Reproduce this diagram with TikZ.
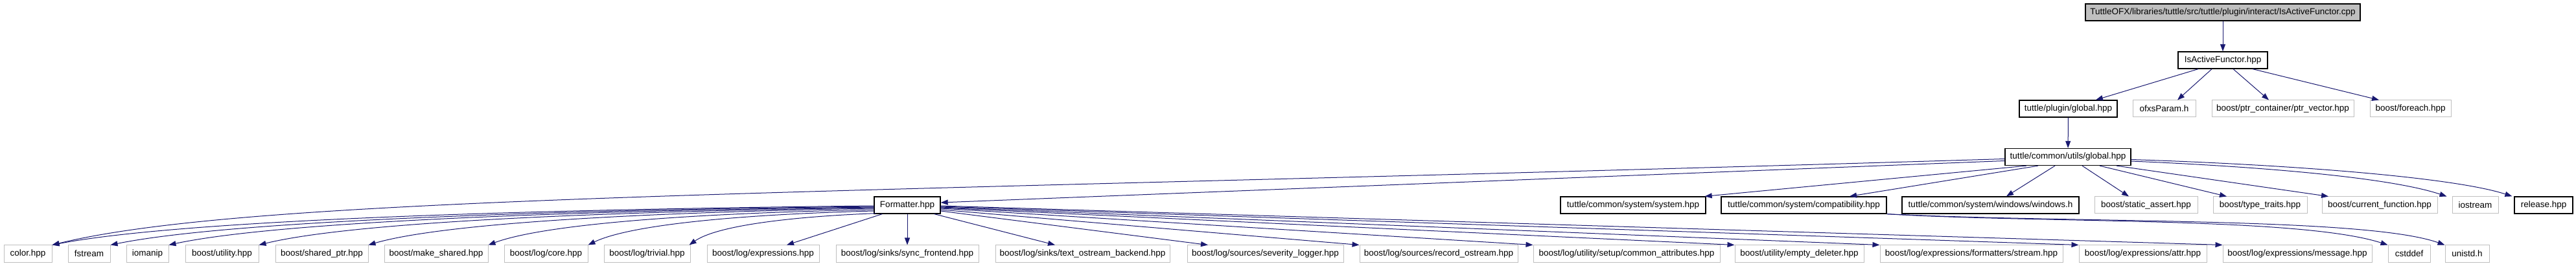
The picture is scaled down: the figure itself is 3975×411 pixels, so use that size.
\documentclass[tikz,border=0pt]{standalone}
\usepackage{fontspec}
\usetikzlibrary{arrows.meta,calc}
\newfontfamily\lsans{Liberation Sans}
\newcommand\nfs{\lsans\fontsize{13.5}{15}\selectfont}
\definecolor{edgeblue}{HTML}{191970}
\definecolor{extgray}{HTML}{BFBFBF}
\begin{document}
\begin{tikzpicture}[x=1pt,y=-1pt,
  box/.style={rectangle, inner sep=0pt, minimum height=26pt, font=\nfs, anchor=center},
  ext/.style={box, draw=extgray, line width=1pt},
  own/.style={box, draw=black, line width=1.3pt},
  root/.style={box, draw=black, fill=extgray, line width=1.3pt},
  dep/.style={draw=edgeblue, line width=1pt, -{Triangle[length=11pt,width=8pt]}}]
\useasboundingbox (0,0) rectangle (3975,411);
% row 1
\node[root, minimum width=424pt] (top) at (3430,19) {TuttleOFX/libraries/tuttle/src/tuttle/plugin/interact/IsActiveFunctor.cpp};
% row 2
\node[own, minimum width=138pt] (isaf) at (3430,93) {IsActiveFunctor.hpp};
% row 3
\node[own, minimum width=151pt] (pg) at (3191.5,168) {tuttle/plugin/global.hpp};
\node[ext, minimum width=97pt] (ofxs) at (3339.5,168) {ofxsParam.h};
\node[ext, minimum width=219pt] (ptrvec) at (3522.5,168) {boost/ptr\_container/ptr\_vector.hpp};
\node[ext, minimum width=125pt] (foreach) at (3719.5,168) {boost/foreach.hpp};
% row 4
\node[own, minimum width=194pt] (ug) at (3191,242.5) {tuttle/common/utils/global.hpp};
% row 5
\node[own, minimum width=102pt] (fmt) at (1400,317) {Formatter.hpp};
\node[own, minimum width=224pt] (sys) at (2520,317) {tuttle/common/system/system.hpp};
\node[own, minimum width=255pt] (compat) at (2783.5,317) {tuttle/common/system/compatibility.hpp};
\node[own, minimum width=273pt] (win) at (3071.5,317) {tuttle/common/system/windows/windows.h};
\node[ext, minimum width=159pt] (sa) at (3311.5,317) {boost/static\_assert.hpp};
\node[ext, minimum width=145pt] (tt) at (3487.5,317) {boost/type\_traits.hpp};
\node[ext, minimum width=178pt] (cf) at (3672,317) {boost/current\_function.hpp};
\node[ext, minimum width=71pt] (ios) at (3819.5,317) {iostream};
\node[own, minimum width=90pt] (rel) at (3925,317) {release.hpp};
% row 6
\node[ext, minimum width=74pt] (color) at (43,392) {color.hpp};
\node[ext, minimum width=65pt] (fstr) at (137.5,392) {fstream};
\node[ext, minimum width=65pt] (ioman) at (227.5,392) {iomanip};
\node[ext, minimum width=113pt] (util) at (342.5,392) {boost/utility.hpp};
\node[ext, minimum width=143pt] (shp) at (496.5,392) {boost/shared\_ptr.hpp};
\node[ext, minimum width=160pt] (mks) at (673,392) {boost/make\_shared.hpp};
\node[ext, minimum width=129pt] (core) at (842.5,392) {boost/log/core.hpp};
\node[ext, minimum width=133pt] (triv) at (998.5,392) {boost/log/trivial.hpp};
\node[ext, minimum width=173pt] (expr) at (1177.5,392) {boost/log/expressions.hpp};
\node[ext, minimum width=220pt] (sync) at (1400,392) {boost/log/sinks/sync\_frontend.hpp};
\node[ext, minimum width=269pt] (tob) at (1670.5,392) {boost/log/sinks/text\_ostream\_backend.hpp};
\node[ext, minimum width=241pt] (sev) at (1952.5,392) {boost/log/sources/severity\_logger.hpp};
\node[ext, minimum width=244pt] (rec) at (2220,392) {boost/log/sources/record\_ostream.hpp};
\node[ext, minimum width=288pt] (com) at (2510,392) {boost/log/utility/setup/common\_attributes.hpp};
\node[ext, minimum width=199pt] (emp) at (2776.5,392) {boost/utility/empty\_deleter.hpp};
\node[ext, minimum width=282pt] (fst) at (3042,392) {boost/log/expressions/formatters/stream.hpp};
\node[ext, minimum width=197pt] (attr) at (3306.5,392) {boost/log/expressions/attr.hpp};
\node[ext, minimum width=230pt] (msg) at (3545,392) {boost/log/expressions/message.hpp};
\node[ext, minimum width=65pt] (cst) at (3717.5,392) {cstddef};
\node[ext, minimum width=68pt] (uni) at (3807,392) {unistd.h};
% edges: top levels
\draw[dep] (top) -- (isaf);
\draw[dep] ($(isaf.south)+(-38,0)$) -- ($(pg.north)+(42.5,0)$);
\draw[dep] ($(isaf.south)+(-17,0)$) -- ($(ofxs.north)+(20.5,0)$);
\draw[dep] ($(isaf.south)+(16,0)$) -- ($(ptrvec.north)+(-21.5,0)$);
\draw[dep] ($(isaf.south)+(46,0)$) -- ($(foreach.north)+(-48.5,0)$);
\draw[dep] (pg) -- (ug);
% utils/global
\draw[dep] ($(ug.south)+(-64,0)$) -- ($(sys.north east)+(-2,0)$);
\draw[dep] ($(ug.south)+(-46,0)$) -- ($(compat.north)+(70.5,0)$);
\draw[dep] ($(ug.south)+(-20,0)$) -- ($(win.north)+(24.5,0)$);
\draw[dep] ($(ug.south)+(22,0)$) -- ($(sa.north)+(-26.5,0)$);
\draw[dep] ($(ug.south)+(49,0)$) -- ($(tt.north)+(-51.5,0)$);
\draw[dep] ($(ug.south)+(75,0)$) -- ($(cf.north)+(-79,0)$);
\draw[dep] ($(ug.east)+(0,6.5)$) .. controls (3500,258) and (3690,275) .. ($(ios.north west)+(-8,0)$);
\draw[dep] ($(ug.east)+(0,4)$) .. controls (3550,255) and (3790,275) .. ($(rel.north west)+(-3,0)$);
\draw[dep] ($(ug.west)+(0,3)$) .. controls (1300,300) and (400,300) .. (color.north east);
\draw[dep] ($(ug.west)+(0,6)$) -- ($(fmt.east)+(0,-4)$);
% Formatter to the left
\draw[dep] ($(fmt.west)+(0,1)$) .. controls +(-571,6) and +(190,-37) .. (color.north east);
\draw[dep] ($(fmt.west)+(0,2)$) .. controls +(-531,6) and +(177,-36) .. (fstr.north east);
\draw[dep] ($(fmt.west)+(0,3)$) .. controls +(-490,6) and +(163,-35) .. (ioman.north east);
\draw[dep] ($(fmt.west)+(0,4)$) .. controls +(-428,6) and +(143,-35) .. (util.north east);
\draw[dep] ($(fmt.west)+(0,5)$) .. controls +(-351,6) and +(117,-34) .. (shp.north east);
\draw[dep] ($(fmt.west)+(0,7)$) .. controls +(-268,5) and +(89,-33) .. (mks.north east);
\draw[dep] ($(fmt.west)+(0,9)$) .. controls +(-199,5) and +(66,-32) .. (core.north east);
\draw[dep] ($(fmt.south west)+(3,-1)$) .. controls +(-130,5) and +(43,-30) .. ($(triv.north east)+(-2,0)$);
\draw[dep] ($(fmt.south west)+(13,0)$) -- ($(expr.north)+(36.5,0)$);
\draw[dep] (fmt) -- (sync);
\draw[dep] ($(fmt.south east)+(-10,0)$) -- ($(tob.north)+(-42.5,0)$);
% Formatter to the right
\draw[dep] ($(fmt.east)+(0,9)$) -- ($(sev.north)+(-88.5,0)$);
\draw[dep] ($(fmt.east)+(0,7)$) -- (rec.north west);
\draw[dep] ($(fmt.east)+(0,5)$) -- (com.north west);
\draw[dep] ($(fmt.east)+(0,4)$) -- (emp.north west);
\draw[dep] ($(fmt.east)+(0,3)$) -- (fst.north west);
\draw[dep] ($(fmt.east)+(0,2)$) -- (attr.north west);
\draw[dep] ($(fmt.east)+(0,1)$) -- (msg.north west);
% compatibility
\draw[dep] (compat.south east) .. controls (3150,345) and (3550,335) .. (cst.north west);
\draw[dep] (compat.south east) .. controls (3200,345) and (3650,335) .. (uni.north west);
\end{tikzpicture}
\end{document}
